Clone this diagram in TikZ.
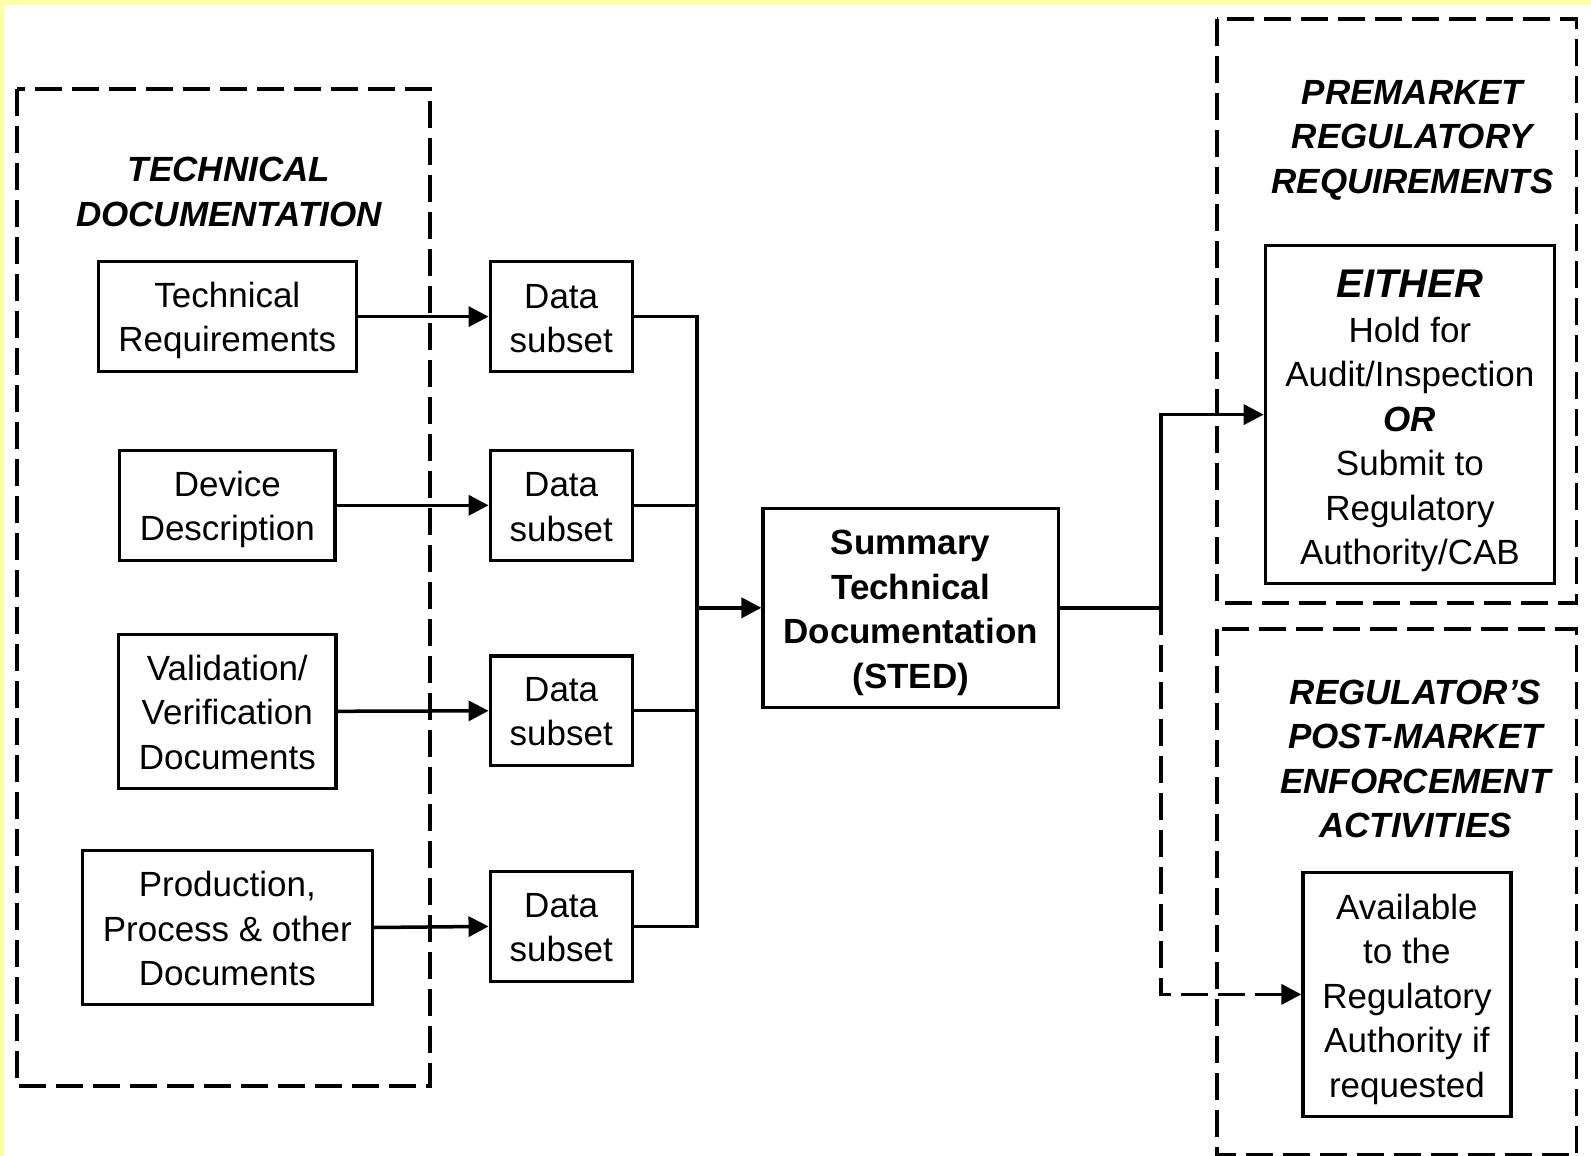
\documentclass[tikz,border=0pt]{standalone}
\usepackage{fontspec}
\setmainfont{Liberation Sans}
\usetikzlibrary{arrows.meta}
\newcommand\bodyfont{\fontsize{35}{44.5}\selectfont}
\newcommand\bigfont{\fontsize{40}{46}\selectfont}
\tikzset{
  box/.style={draw, line width=3.2pt, inner sep=0pt},
  txt/.style={align=center, inner sep=0pt, font=\bodyfont},
  ttl/.style={align=center, inner sep=0pt, font=\bodyfont\bfseries\itshape},
  grp/.style={line width=3.8pt, dash pattern=on 27pt off 10pt},
  conn/.style={line width=3.3pt},
  arr/.style={line width=3.5pt, -{Triangle[length=20pt,width=20pt]}},
  darr/.style={line width=3.8pt, dash pattern=on 27pt off 10pt, -{Triangle[length=20pt,width=20pt]}},
}
\begin{document}
\begin{tikzpicture}[x=1pt,y=-1pt]
\useasboundingbox (0,0) rectangle (1591,1156);
\fill[white] (0,0) rectangle (1591,1156);
\draw[color={rgb,255:red,255;green,255;blue,170}, line width=5pt] (1.5,1156) -- (1.5,2.5) -- (1591,2.5);

% group containers
\draw[grp] (17,89) rectangle (430,1086);
\draw[grp] (1216.6,19) rectangle (1576.5,602.7);
\draw[grp] (1216.6,629) rectangle (1576.5,1155);

% titles
\node[ttl] (t1) at (229,192) {TECHNICAL\\DOCUMENTATION};
\node[ttl] (t2) at (1412.5,140) {PREMARKET\\REGULATORY\\REQUIREMENTS};
\node[ttl] (t3) at (1415.5,759) {REGULATOR’S\\POST-MARKET\\ENFORCEMENT\\ACTIVITIES};

% left boxes
\node[box, minimum width=257.8pt, minimum height=109.6pt] (tr) at (227.3,316.6) {};
\node[box, minimum width=215.2pt, minimum height=109.6pt] (dd) at (227.3,505.3) {};
\node[box, minimum width=217.2pt, minimum height=154.2pt] (vv) at (227.3,711.3) {};
\node[box, minimum width=290.2pt, minimum height=154.3pt] (pp) at (227.3,927.5) {};
\node[txt] (trt) at ([yshift=-4pt]tr.center) {Technical\\Requirements};
\node[txt] (ddt) at ([yshift=-4pt]dd.center) {Device\\Description};
\node[txt] (vvt) at ([yshift=-1pt]vv.center) {Validation/\\Verification\\Documents};
\node[txt] (ppt) at ([yshift=-1pt]pp.center) {Production,\\Process \& other\\Documents};

% data subsets
\node[box, minimum width=142.1pt, minimum height=109.6pt] (ds1) at (561.2,316.6) {};
\node[box, minimum width=142.1pt, minimum height=109.6pt] (ds2) at (561.2,505.3) {};
\node[box, minimum width=142.1pt, minimum height=109.6pt] (ds3) at (561.2,710.8) {};
\node[box, minimum width=142.1pt, minimum height=109.6pt] (ds4) at (561.2,926.4) {};
\node[txt] (ds1t) at ([yshift=-2pt]ds1.center) {Data\\subset};
\node[txt] (ds2t) at ([yshift=-2pt]ds2.center) {Data\\subset};
\node[txt] (ds3t) at ([yshift=-1pt]ds3.center) {Data\\subset};
\node[txt] (ds4t) at ([yshift=-1pt]ds4.center) {Data\\subset};

% STED
\node[box, minimum width=295.3pt, minimum height=198.8pt] (sted) at (910.7,607.8) {};
\node[txt, font=\bodyfont\bfseries] (stedt) at ([yshift=-5pt]sted.center) {Summary\\Technical\\Documentation\\(STED)};

% right boxes
\node[box, minimum width=289.2pt, minimum height=337.9pt] (either) at (1409.9,414.6) {};
\node[txt] (eithert) at ([yshift=-6.5pt]either.center)
  {{\bigfont\bfseries\itshape EITHER}\\Hold for\\Audit/Inspection\\{\bfseries\itshape OR}\\Submit to\\Regulatory\\Authority/CAB};
\node[box, minimum width=208pt, minimum height=243.6pt] (avail) at (1406.9,994.4) {};
\node[txt] (availt) at ([yshift=-5pt]avail.center)
  {Available\\to the\\Regulatory\\Authority if\\requested};

% coordinates
\coordinate (bus) at (697,607.8);
\coordinate (ex) at (1160.8,607.8);

% connectors
\draw[arr] (tr.east) -- (ds1.west);
\draw[arr] (dd.east) -- (ds2.west);
\draw[arr] (vv.east) -- (ds3.west);
\draw[arr] (pp.east) -- (ds4.west);

\draw[conn] (ds1.east) -- (ds1.east -| bus) -- (ds4.east -| bus) -- (ds4.east);
\draw[conn] (ds2.east) -- (ds2.east -| bus);
\draw[conn] (ds3.east) -- (ds3.east -| bus);
\draw[arr] (bus) -- (sted.west);

\draw[arr] (sted.east) -- (ex) |- (either.west);
\draw[darr] (ex) |- (avail.west);
\end{tikzpicture}
\end{document}
